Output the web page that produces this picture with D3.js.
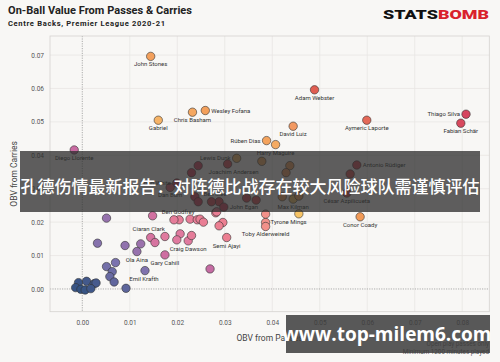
<!DOCTYPE html>
<html lang="en">
<script src="https://d3js.org/d3.v7.min.js"></script>
<style>
  body { margin: 0; background: #f8f7f5; }
  svg { display: block; font-family: Roboto, "Liberation Sans", sans-serif; }
  .grid line { stroke: #e8e6e3; stroke-width: 0.8; }
  .tick text { fill: #555; font-size: 6.5px; }
  .lbl { fill: #333; font-size: 6px; }
</style>
<body>
<svg id="chart" width="500" height="362"></svg>
<script>
// tick values
var xTicks = [0, 0.01, 0.02, 0.03, 0.04, 0.05, 0.06, 0.07, 0.08];
var yTicks = [0, 0.01, 0.02, 0.03, 0.04, 0.05, 0.06, 0.07];

// players: name, OBV from passes, OBV from carries, colour tone (0 = blue ... 1 = yellow)
var names = [
  "John Stones", "Gabriel", "Chris Basham", "Wesley Fofana", "Rúben Dias", "David Luiz",
  "Harry Maguire", "Adam Webster", "Aymeric Laporte", "Thiago Silva", "Fabian Schär",
  "Diego Llorente", "Lewis Dunk", "Antonio Rüdiger", "Joachim Andersen", "César Azpilicueta",
  "Ben White", "Dan Burn", "Ben Mee", "John Egan", "Max Kilman", "Tyrone Mings",
  "Toby Alderweireld", "Conor Coady", "Ben Godfrey", "Ciaran Clark", "Craig Dawson",
  "Semi Ajayi", "Gary Cahill", "Ola Aina", "Emil Krafth",
  "", "", "", "", "", "", "", "", "", "", "", "", "", "", "", "", "", "", "", "", "",
  "", "", "", "", "", "", "", "", "", "", "", "", "", "", "", "",
  "", "", "", "", "", "", "", "", "", "", "", ""
];
var obvPasses = [
  0.0144, 0.0160, 0.0232, 0.0259, 0.0388, 0.0444,
  0.0407, 0.0489, 0.0599, 0.0808, 0.0797,
  -0.0017, 0.0325, 0.0578, 0.0306, 0.0557,
  0.0199, 0.0185, 0.0288, 0.0298, 0.0444, 0.0386,
  0.0386, 0.0585, 0.0204, 0.0144, 0.0223,
  0.0304, 0.0174, 0.0115, 0.0132,
  0.0051, 0.0148, 0.0193, 0.0227, 0.0242, 0.0248, 0.0255, 0.0281, 0.0296, 0.0288,
  0.0153, 0.0174, 0.0206, 0.0199, 0.0230, 0.0032, 0.0090, 0.0123, 0.0070, 0.0051,
  0.0063, 0.0058, 0.0067, 0.0092, 0.0269, 0.0386, 0.0456,
  0.0244, 0.0230, 0.0378, 0.0437, 0.0429, 0.0564, 0.0237, 0.0244, 0.0272, 0.0283,
  0.0346, 0.0366, 0.0421, 0.0456,
  -0.0008, 0.0009, 0.0025, 0.0029, -0.0014, -0.0003, 0.0006, 0.0018, 0.0025, 0.0002,
  0.0013, -0.0009
];
var obvCarries = [
  0.0696, 0.0505, 0.0529, 0.0534, 0.0444, 0.0487,
  0.0432, 0.0596, 0.0505, 0.0523, 0.0496,
  0.0416, 0.0391, 0.0371, 0.0374, 0.0287,
  0.0317, 0.0304, 0.0261, 0.0245, 0.0269, 0.0199,
  0.0187, 0.0216, 0.0207, 0.0154, 0.0144,
  0.0154, 0.0102, 0.0112, 0.0055,
  0.0212, 0.0219, 0.0207, 0.0209, 0.0207, 0.0209, 0.0200, 0.0228, 0.0199, 0.0189,
  0.0139, 0.0157, 0.0165, 0.0147, 0.0160, 0.0137, 0.0130, 0.0135, 0.0079, 0.0067,
  0.0052, 0.0037, 0.0021, 0.0002, 0.0060, 0.0224, 0.0225,
  0.0369, 0.0348, 0.0382, 0.0369, 0.0348, 0.0344, 0.0276, 0.0261, 0.0261, 0.0231,
  0.0272, 0.0266, 0.0276, 0.0278,
  0.0019, 0.0023, 0.0016, 0.0018, 0.0004, -0.0001, -0.0003, 0.0001, 0.0000, 0.0009,
  0.0008, 0.0012
];
var tones = [
  0.84, 0.91, 0.87, 0.84, 0.85, 0.80,
  0.88, 0.64, 0.66, 0.58, 0.59,
  0.45, 0.92, 0.60, 0.60, 0.62,
  0.58, 0.57, 0.60, 0.58, 0.97, 0.72,
  0.72, 0.82, 0.53, 0.48, 0.50,
  0.55, 0.46, 0.30, 0.22,
  0.30, 0.47, 0.52, 0.53, 0.53, 0.54, 0.54, 0.55, 0.55, 0.55,
  0.48, 0.50, 0.50, 0.50, 0.52, 0.24, 0.28, 0.32, 0.20, 0.18,
  0.16, 0.15, 0.13, 0.12, 0.44, 0.72, 0.97,
  0.58, 0.58, 0.88, 0.84, 0.80, 0.62, 0.58, 0.58, 0.60, 0.54,
  0.60, 0.61, 0.86, 0.86,
  0.03, 0.05, 0.04, 0.06, 0.02, 0.01, 0.02, 0.04, 0.05, 0.02,
  0.03, 0.02
];

var points = names.map(function(n, i) {
  return {name: n, pass: obvPasses[i], carry: obvCarries[i], tone: tones[i]};
});

// where each label sits relative to its point
var labelPos = {
  "John Stones": ["middle", 0, 10], "Gabriel": ["middle", 0, 10], "Chris Basham": ["middle", 0, 10],
  "Wesley Fofana": ["start", 6, 2], "Rúben Dias": ["end", -6, 2], "David Luiz": ["middle", 0, 10],
  "Harry Maguire": ["middle", 0, 10], "Adam Webster": ["middle", 0, 10],
  "Aymeric Laporte": ["middle", 0, 10], "Thiago Silva": ["end", -6, 2], "Fabian Schär": ["middle", 0, 10],
  "Diego Llorente": ["middle", 0, 10], "Lewis Dunk": ["end", -6, 2], "Antonio Rüdiger": ["start", 6, 2],
  "Joachim Andersen": ["middle", 6, 10], "César Azpilicueta": ["middle", 0, 10],
  "Ben White": ["end", -6, 2], "Dan Burn": ["middle", 0, 10], "Ben Mee": ["middle", -4, -6],
  "John Egan": ["start", 6, 2], "Max Kilman": ["middle", 0, 10], "Tyrone Mings": ["start", 5, 2],
  "Toby Alderweireld": ["middle", 0, 10], "Conor Coady": ["middle", 0, 10],
  "Ben Godfrey": ["middle", -1, -6], "Ciaran Clark": ["middle", -2, -7], "Craig Dawson": ["middle", 0, 10],
  "Semi Ajayi": ["middle", 0, 10], "Gary Cahill": ["middle", 0, 10], "Ola Aina": ["middle", 0, 10],
  "Emil Krafth": ["middle", -1, 10]
};

var svg = d3.select("#chart");
var x = d3.scaleLinear().domain([-0.0068, 0.0857]).range([50, 489.3]);
var y = d3.scaleLinear().domain([-0.0068, 0.0757]).range([311.7, 36]);
var colour = d3.scaleLinear()
  .domain([0, 0.2, 0.35, 0.45, 0.5, 0.56, 0.58, 0.65, 0.72, 0.82, 0.9, 1])
  .range(["#30507f", "#7b73ae", "#a371ac", "#c96ba2", "#e07a9f", "#ee808e", "#d6455f", "#e2614f",
          "#f2918a", "#f29b58", "#f6b066", "#f8cd66"]);

// title + subtitle
svg.append("text").attr("x", 8).attr("y", 14)
  .style("font-size", "11px").style("font-weight", "700").style("fill", "#222")
  .attr("textLength", 184).text("On-Ball Value From Passes & Carries");
svg.append("text").attr("x", 8).attr("y", 26)
  .style("font-size", "7.6px").style("font-weight", "700").style("fill", "#222")
  .attr("textLength", 157).text("Centre Backs, Premier League 2020-21");

// logo
var logo = svg.append("text").attr("x", 383).attr("y", 18.5)
  .style("font-size", "13.5px").style("font-weight", "900").attr("textLength", 106)
  .attr("lengthAdjust", "spacingAndGlyphs");
logo.append("tspan").style("fill", "#111").text("STATS");
logo.append("tspan").style("fill", "#d9212c").text("BOMB");

// grid
var grid = svg.append("g").attr("class", "grid");
grid.selectAll(".gx").data(xTicks.filter(function(d) { return d !== 0; })).enter().append("line")
  .attr("x1", function(d) { return x(d); }).attr("x2", function(d) { return x(d); })
  .attr("y1", y.range()[1]).attr("y2", y.range()[0]);
grid.selectAll(".gy").data(yTicks.filter(function(d) { return d !== 0; })).enter().append("line")
  .attr("y1", function(d) { return y(d); }).attr("y2", function(d) { return y(d); })
  .attr("x1", x.range()[0]).attr("x2", x.range()[1]);

// zero lines
svg.append("line").attr("x1", x(0)).attr("x2", x(0)).attr("y1", y.range()[1]).attr("y2", y.range()[0])
  .style("stroke", "#999").style("stroke-width", 0.8).style("stroke-dasharray", "1.2,1.2");
svg.append("line").attr("y1", y(0)).attr("y2", y(0)).attr("x1", x.range()[0]).attr("x2", x.range()[1])
  .style("stroke", "#999").style("stroke-width", 0.8).style("stroke-dasharray", "1.2,1.2");

// frame
svg.append("rect").attr("x", x.range()[0]).attr("y", y.range()[1])
  .attr("width", x.range()[1] - x.range()[0]).attr("height", y.range()[0] - y.range()[1])
  .style("fill", "none").style("stroke", "#d4d2cf").style("stroke-width", 0.8);

// axes
svg.append("g").attr("transform", "translate(0," + y.range()[0] + ")")
  .call(d3.axisBottom(x).tickValues(xTicks).tickFormat(d3.format(".2f")).tickSize(0).tickPadding(9))
  .call(function(g) { g.select(".domain").remove(); });
svg.append("g").attr("transform", "translate(" + x.range()[0] + ",0)")
  .call(d3.axisLeft(y).tickValues(yTicks).tickFormat(d3.format(".2f")).tickSize(0).tickPadding(6))
  .call(function(g) { g.select(".domain").remove(); });
svg.selectAll(".tick text").style("font-family", "Roboto, sans-serif").style("font-size", "6.5px");

svg.append("text").attr("x", (x.range()[0] + x.range()[1]) / 2).attr("y", 341)
  .style("text-anchor", "middle").style("font-size", "8.5px").style("fill", "#444")
  .text("OBV from Passes");
svg.append("text").attr("transform", "translate(17," + ((y.range()[0] + y.range()[1]) / 2) + ") rotate(-90)")
  .style("text-anchor", "middle").style("font-size", "8.5px").style("fill", "#444")
  .text("OBV from Carries");

svg.append("text").attr("x", 489).attr("y", 345.5).style("text-anchor", "end")
  .style("font-size", "6.3px").style("fill", "#555").text("Open play passes only");
svg.append("text").attr("x", 489).attr("y", 353.5).style("text-anchor", "end")
  .style("font-size", "6.3px").style("fill", "#555").text("Minimum 1200 minutes played");

// points
svg.append("g").selectAll("circle").data(points).enter().append("circle")
  .attr("cx", function(d) { return x(d.pass); })
  .attr("cy", function(d) { return y(d.carry); })
  .attr("r", 4.2)
  .style("fill", function(d) { return colour(d.tone); })
  .style("stroke", "#333").style("stroke-width", 0.6);

// labels
svg.append("g").selectAll("text").data(points.filter(function(d) { return d.name; })).enter().append("text")
  .attr("class", "lbl")
  .attr("x", function(d) { return x(d.pass) + labelPos[d.name][1]; })
  .attr("y", function(d) { return y(d.carry) + labelPos[d.name][2]; })
  .style("text-anchor", function(d) { return labelPos[d.name][0]; })
  .text(function(d) { return d.name; });

// overlay banners
svg.append("rect").attr("x", 20).attr("y", 151).attr("width", 460).attr("height", 61)
  .style("fill", "rgba(45,45,45,0.76)");
svg.append("text").attr("x", 250).attr("y", 193).style("text-anchor", "middle")
  .style("font-family", "'Noto Sans CJK SC', sans-serif").style("font-size", "17px")
  .style("font-weight", "500").style("fill", "#fff")
  .text("孔德伤情最新报告：对阵德比战存在较大风险球队需谨慎评估");

svg.append("rect").attr("x", 286).attr("y", 315).attr("width", 204).attr("height", 38)
  .style("fill", "rgba(60,60,60,0.85)");
svg.append("text").attr("x", 387).attr("y", 341).style("text-anchor", "middle")
  .style("font-family", "'Open Sans', sans-serif").style("font-size", "19px")
  .style("font-weight", "700").style("fill", "#fff")
  .text("www.top-milem6.com");
</script>
</body>
</html>
